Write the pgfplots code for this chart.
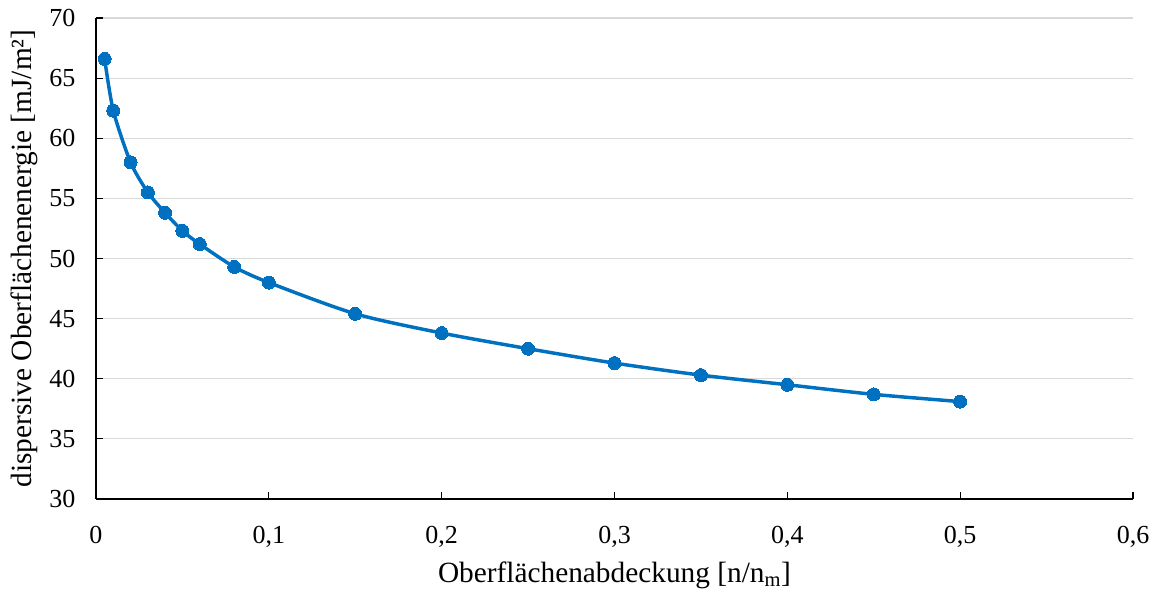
\documentclass[border=0pt]{standalone}
\usepackage{pgfplots}
\pgfplotsset{compat=1.18}
\usepackage{fontspec}
\setmainfont{Liberation Serif}
\definecolor{serieblue}{HTML}{0070C0}
\definecolor{gridgray}{HTML}{D9D9D9}

\pgfplotstableread{
x      y
0.005  66.6
0.01   62.3
0.02   58.0
0.03   55.5
0.04   53.8
0.05   52.3
0.06   51.2
0.08   49.3
0.10   48.0
0.15   45.4
0.20   43.8
0.25   42.5
0.30   41.3
0.35   40.3
0.40   39.5
0.45   38.7
0.50   38.1
}\energytable

\begin{document}
\begin{tikzpicture}[x=0.75pt,y=0.75pt]
\begin{axis}[
  name=main,
  scale only axis,
  width=777.75pt, height=360.75pt,
  xmin=0, xmax=0.6, ymin=30, ymax=70,
  xtick={0,0.1,...,0.6},
  ytick={30,35,...,70},
  axis x line*=bottom,
  axis y line*=left,
  axis line style={black, line width=0.9pt, -},
  tick style={black, line width=0.9pt},
  tick align=inside,
  major tick length=5pt,
  ymajorgrids,
  major grid style={gridgray, line width=0.9pt},
  /pgf/number format/.cd, use comma, fixed, assume math mode=true,
  /pgfplots/.cd,
  tick label style={font=\fontsize{19.5}{23}\selectfont},
  xticklabel style={yshift=-17pt},
  yticklabel style={xshift=-12pt},
  xlabel={Oberflächenabdeckung [n/n\textsubscript{m}]},
  ylabel={dispersive Oberflächenenergie [mJ/m²]},
  label style={font=\fontsize{22}{26}\selectfont},
  xlabel style={yshift=-4pt},
  ylabel style={yshift=2pt},
]
\addplot[serieblue, line width=2.6pt, smooth, tension=0.45,
  mark=*, mark size=4.9pt, mark options={fill=serieblue, draw=serieblue, line width=0pt}]
  table[x=x, y=y] {\energytable};
\end{axis}
\path[use as bounding box] ([xshift=-72pt,yshift=-68.25pt]main.south west) rectangle ([xshift=18pt,yshift=13.5pt]main.north east);
\end{tikzpicture}
\end{document}
